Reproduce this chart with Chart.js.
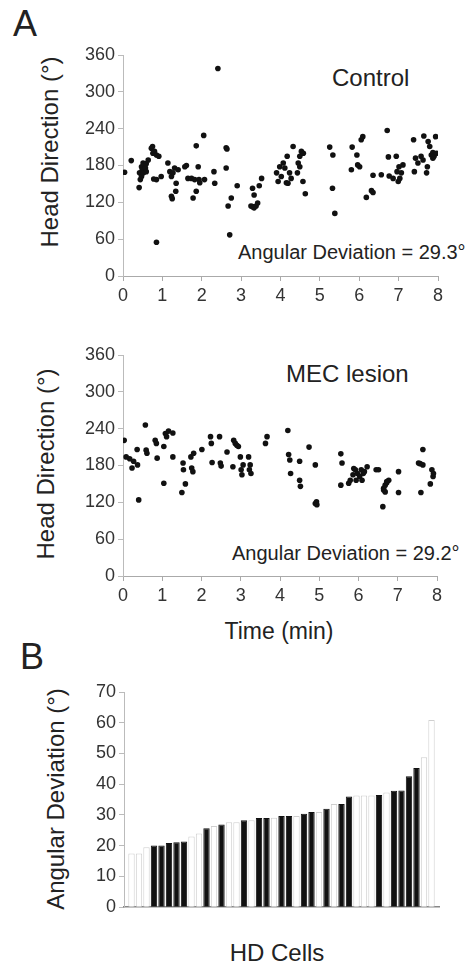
<!DOCTYPE html>
<html>
<head>
<meta charset="utf-8">
<script src="https://cdn.jsdelivr.net/npm/chart.js@4.4.1/dist/chart.umd.min.js"></script>
<style>
  html, body { margin: 0; padding: 0; background: #fff; }
  body { width: 474px; height: 967px; position: relative; overflow: hidden;
         font-family: "Liberation Sans", Arial, sans-serif; color: #222; }
  canvas { position: absolute; left: 0; }
  .txt { position: absolute; line-height: 1; white-space: nowrap; }
  .rot { position: absolute; line-height: 1; white-space: nowrap;
         transform: translate(-50%, -50%) rotate(-90deg); }
</style>
</head>
<body>
<div class="txt" style="left:13px;top:6px;font-size:36px;">A</div>
<div class="rot" style="left:50px;top:152px;font-size:24px;">Head Direction (°)</div>
<div class="txt" style="left:332px;top:66px;font-size:24px;">Control</div>
<div class="txt" style="left:238px;top:242px;font-size:20px;">Angular Deviation = 29.3°</div>
<canvas id="ctrl-chart" width="474" height="266" style="top:40px"></canvas>

<div class="rot" style="left:46px;top:464px;font-size:24px;">Head Direction (°)</div>
<div class="txt" style="left:286px;top:362px;font-size:24px;">MEC lesion</div>
<div class="txt" style="left:232px;top:543px;font-size:20px;">Angular Deviation = 29.2°</div>
<canvas id="mec-chart" width="474" height="266" style="top:340px"></canvas>
<div class="txt" style="left:279px;top:620px;font-size:23px;transform:translateX(-50%);">Time (min)</div>

<div class="txt" style="left:20px;top:639px;font-size:36px;">B</div>
<div class="rot" style="left:56px;top:799px;font-size:24px;">Angular Deviation (°)</div>
<canvas id="cells-chart" width="474" height="244" style="top:677px"></canvas>
<div class="txt" style="left:277px;top:941px;font-size:24px;transform:translateX(-50%);">HD Cells</div>

<script>
// ── Data ───────────────────────────────────────────────────────────────────
// Control: time (min) / head direction (deg)
const ctrlTime = [
  0.04, 0.21, 0.41, 0.42, 0.44, 0.47, 0.47, 0.49, 0.51, 0.52, 0.55, 0.57, 0.59, 0.59, 0.64,
  0.72, 0.75, 0.76, 0.78, 0.80, 0.85, 0.85, 0.85, 0.91, 0.97,
  1.14, 1.19, 1.23, 1.23, 1.25, 1.27, 1.31, 1.34, 1.35, 1.40,
  1.57, 1.61, 1.65, 1.74, 1.78, 1.82, 1.86, 1.86, 1.91, 1.93, 1.95, 2.05, 2.07,
  2.31, 2.33, 2.41, 2.62, 2.64, 2.62, 2.67, 2.71, 2.75, 2.90,
  3.25, 3.29, 3.29, 3.33, 3.33, 3.38, 3.42, 3.46, 3.52,
  3.90, 3.94, 3.98, 4.02, 4.07, 4.11, 4.15, 4.17, 4.19, 4.23, 4.27, 4.32,
  4.43, 4.45, 4.49, 4.49, 4.53, 4.57, 4.58, 4.63,
  5.25, 5.32, 5.33, 5.38,
  5.80, 5.82, 5.94, 5.96, 6.01, 6.05, 6.09, 6.18, 6.31, 6.35, 6.35,
  6.56, 6.71, 6.74, 6.76, 6.86, 6.94, 6.96, 6.99, 7.01, 7.03, 7.07, 7.11,
  7.38, 7.40, 7.43, 7.49, 7.57, 7.62, 7.64, 7.71, 7.73, 7.75, 7.79, 7.83, 7.87, 7.87, 7.90, 7.94, 7.96
];
const ctrlDir = [
  169, 188, 144, 168, 157, 178, 162, 173, 184, 168, 181, 176, 183, 170, 189,
  208, 211, 200, 158, 203, 197, 157, 55, 195, 162,
  184, 170, 162, 130, 126, 168, 176, 138, 151, 173,
  178, 180, 159, 159, 127, 157, 212, 138, 178, 157, 152, 229, 157,
  170, 151, 338, 209, 207, 176, 114, 67, 127, 147,
  114, 143, 113, 132, 111, 114, 119, 147, 159,
  168, 154, 178, 162, 184, 176, 152, 195, 151, 168, 159, 211,
  168, 184, 178, 195, 203, 154, 200, 134,
  210, 143, 197, 102,
  173, 210, 197, 181, 178, 222, 227, 128, 139, 136, 164,
  165, 237, 194, 163, 159, 195, 170, 154, 178, 159, 168, 181,
  222, 170, 192, 184, 195, 189, 228, 168, 178, 219, 211, 197, 201, 192, 195, 227, 200
];

// MEC lesion: time (min) / head direction (deg)
const mecTime = [
  0.03, 0.08, 0.17, 0.23, 0.27, 0.36, 0.37, 0.40,
  0.57, 0.59, 0.61, 0.82, 0.85, 0.87, 1.04, 1.04, 1.08, 1.11, 1.16, 1.27, 1.27,
  1.50, 1.53, 1.54, 1.59, 1.73, 1.75, 1.78, 1.80,
  2.01, 2.23, 2.25, 2.27, 2.46, 2.48, 2.50, 2.65, 2.80, 2.82, 2.86, 2.90, 2.94, 2.99,
  3.01, 3.03, 3.06, 3.20, 3.22, 3.24, 3.26, 3.63, 3.67,
  4.20, 4.22, 4.25, 4.27, 4.50, 4.50, 4.52, 4.74, 4.90, 4.90, 4.93, 4.94,
  5.55, 5.58, 5.55, 5.75, 5.79, 5.86, 5.88, 5.92, 5.94, 5.97, 6.03, 6.07, 6.09, 6.12, 6.15, 6.22,
  6.45, 6.51, 6.62, 6.64, 6.64, 6.68, 6.68, 6.72, 6.72, 6.77, 7.02, 7.02,
  7.53, 7.57, 7.59, 7.64, 7.64, 7.83, 7.87, 7.90, 7.91
];
const mecDir = [
  221, 194, 191, 176, 187, 206, 181, 124,
  246, 205, 200, 221, 216, 192, 151, 211, 232, 227, 236, 233, 194,
  136, 184, 173, 150, 194, 176, 170, 200,
  206, 227, 216, 185, 227, 184, 179, 202, 178, 221, 216, 213, 211, 194,
  173, 165, 181, 194, 173, 181, 167, 216, 227,
  237, 198, 189, 167, 187, 156, 146, 210, 181, 118, 121, 116,
  199, 184, 148, 151, 156, 165, 175, 173, 156, 167, 162, 173, 156, 167, 170, 178,
  173, 173, 113, 143, 140, 148, 137, 152, 154, 156, 170, 136,
  184, 183, 136, 206, 181, 150, 173, 162, 167
];

const timeTicks = [0, 1, 2, 3, 4, 5, 6, 7, 8];
const dirTicks  = [0, 60, 120, 180, 240, 300, 360];

// HD cells, sorted by angular deviation; 'b' = black bar, 'w' = open bar
const cellIndex = Array.from({ length: 41 }, (_, i) => i + 1);
const cellDev = [
  17.5, 17.5, 19.5, 20.1, 20.1, 20.9, 21.1, 21.4, 23.0, 24.0,
  25.7, 26.4, 26.9, 27.6, 27.6, 28.3, 28.3, 29.0, 29.0, 29.1,
  29.7, 29.7, 29.7, 30.4, 31.0, 31.0, 32.0, 33.6, 33.6, 36.0,
  36.3, 36.3, 36.3, 36.5, 37.3, 37.9, 38.0, 42.6, 45.3, 48.8, 60.9
];
const cellShade = [
  'w','w','w','b','b','b','b','b','w','w',
  'b','w','b','w','w','b','w','b','b','w',
  'b','b','w','b','b','w','b','w','b','b',
  'w','w','w','b','w','b','b','b','b','w','w'
];
const devTicks = [0, 10, 20, 30, 40, 50, 60, 70];

// ── Shared styling ─────────────────────────────────────────────────────────
const FONT = '"Liberation Sans", Arial, sans-serif';
const tickFont = { family: FONT, size: 18 };

Chart.defaults.animation = false;
Chart.defaults.responsive = false;
Chart.defaults.plugins.legend.display = false;
Chart.defaults.plugins.tooltip.enabled = false;

function fixedWidth(w)  { return scale => { scale.width = w; }; }
function fixedHeight(h) { return scale => { scale.height = h; }; }

function scatterChart(id, xs, ys, rightPad) {
  return new Chart(document.getElementById(id), {
    type: 'scatter',
    data: {
      datasets: [{
        data: xs.map((x, i) => ({ x, y: ys[i] })),
        backgroundColor: '#111',
        borderWidth: 0,
        pointRadius: 2.8,
      }]
    },
    options: {
      layout: { padding: { top: 15, right: rightPad, bottom: 0, left: 0 } },
      scales: {
        x: {
          type: 'linear', min: 0, max: 8,
          afterBuildTicks: s => { s.ticks = timeTicks.map(v => ({ value: v })); },
          afterFit: fixedHeight(30),
          ticks: { font: tickFont, color: '#333', padding: 4, maxRotation: 0 },
          grid: { drawOnChartArea: false, tickLength: 5, color: '#aaa' },
          border: { color: '#aaa', width: 1 },
        },
        y: {
          min: 0, max: 360,
          afterBuildTicks: s => { s.ticks = dirTicks.map(v => ({ value: v })); },
          afterFit: fixedWidth(123),
          ticks: { font: tickFont, color: '#333', padding: 3 },
          grid: { drawOnChartArea: false, tickLength: 5, color: '#bbb' },
          border: { color: '#bbb', width: 1 },
        }
      }
    }
  });
}

// ── Panel A ────────────────────────────────────────────────────────────────
scatterChart('ctrl-chart', ctrlTime, ctrlDir, 36);
scatterChart('mec-chart', mecTime, mecDir, 37);

// ── Panel B ────────────────────────────────────────────────────────────────
new Chart(document.getElementById('cells-chart'), {
  type: 'bar',
  data: {
    datasets: [{
      data: cellIndex.map((c, i) => ({ x: c, y: cellDev[i] })),
      backgroundColor: cellShade.map(s => s === 'b' ? '#111' : '#fff'),
      borderColor: cellShade.map(s => s === 'b' ? '#111' : '#cfcfcf'),
      borderWidth: 1,
      barPercentage: 0.85,
      categoryPercentage: 1,
    }]
  },
  options: {
    layout: { padding: { top: 15, right: 35, bottom: 0, left: 0 } },
    scales: {
      x: {
        type: 'linear', min: 0, max: 42, offset: false,
        afterFit: fixedHeight(10),
        ticks: { display: false },
        grid: { display: false, offset: false },
        border: { color: '#888', width: 1.5 },
      },
      y: {
        min: 0, max: 70,
        afterBuildTicks: s => { s.ticks = devTicks.map(v => ({ value: v })); },
        afterFit: fixedWidth(124),
        ticks: { font: tickFont, color: '#333', padding: 3 },
        grid: { drawOnChartArea: false, tickLength: 5, color: '#bbb' },
        border: { color: '#bbb', width: 1 },
      }
    }
  }
});
</script>
</body>
</html>
